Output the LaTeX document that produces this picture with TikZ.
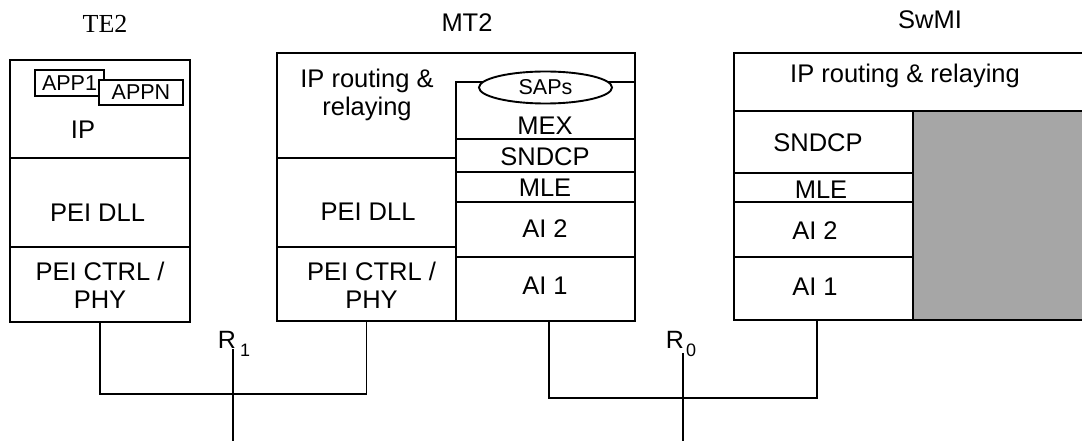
\documentclass[tikz,border=0pt]{standalone}
\usepackage{fontspec}
\setsansfont{Liberation Sans}
\newfontfamily\serifhead{Liberation Serif}
\usepackage{xcolor}
\usepackage{tikz}
\usetikzlibrary{shapes.geometric}
\definecolor{shade}{RGB}{166,166,166}
\newcommand{\bigtxt}{\sffamily\fontsize{25.5}{28}\selectfont}
\newcommand{\smalltxt}{\sffamily\fontsize{21.5}{24}\selectfont}
\newcommand{\subtxt}{\sffamily\fontsize{18}{20}\selectfont}

\begin{document}
\begin{tikzpicture}[
      x=1pt, y=-1pt, line width=1.9pt,
      layer/.style={draw, inner sep=0pt, fill=white},
      txt/.style={font=\bigtxt, inner sep=0pt, align=center},
      app/.style={draw, fill=white, inner sep=0pt, font=\smalltxt},
      wire/.style={draw, line width=1.9pt},
      rlbl/.style={font=\sffamily\fontsize{25}{28}\selectfont, inner sep=0pt, anchor=base west}
    ]
    \useasboundingbox (0,0) rectangle (1082,441);
    % outer frames
    \node[layer, minimum width=358, minimum height=268] (mt2) at (456,187) {};
    \node[layer, minimum width=356, minimum height=267] (swmi) at (912,186.5) {};
    % protocol layers
    \foreach \n/\x/\y/\w/\h in {
      te2ip/100/109/180/98, te2dll/100/202.5/180/89, te2ctrl/100/284.5/180/75,
      mtdll/366.5/202.5/179/89, mtctrl/366.5/284/179/74,
      mtmex/545.5/110.5/179/57, mtsndcp/545.5/155.5/179/33, mtmle/545.5/187/179/30,
      mtai2/545.5/229.5/179/55, mtai1/545.5/289/179/64,
      swsndcp/823.5/142/179/62, swmle/823.5/187.5/179/29,
      swai2/823.5/229.5/179/55, swai1/823.5/288.5/179/63} {
      \node[layer, minimum width=\w, minimum height=\h] (\n) at (\x,\y) {};
    }
    \node[layer, fill=shade, minimum width=177, minimum height=209] (swgrey) at (1001.5,215.5) {};
    \node[app, minimum width=69, minimum height=26] (app1) at (69.5,83) {APP1};
    \node[app, minimum width=84, minimum height=25] (appn) at (141,92.5) {APPN};
    \node[draw, ellipse, fill=white, inner sep=0pt, minimum width=133, minimum height=32,
      font=\smalltxt] (saps) at (545.5,87.5) {SAPs};
    % layer names
    \foreach \n/\x/\y/\t in {
      lip/83/130/IP, ldll/97.5/212.5/PEI DLL, lctrl/100/285/{PEI CTRL /\\PHY},
      lmtip/367/95/{IP routing \&\\relaying}, lmtdll/368/212/PEI DLL, lmtctrl/371.5/285/{PEI CTRL /\\PHY},
      lmex/545/126/MEX, lmtsn/545/156.5/SNDCP, lmtmle/545/188/MLE, lmtai2/545/229/AI 2, lmtai1/545/286/AI 1,
      lswip/905/76/{IP routing \& relaying}, lswsn/818/142.5/SNDCP, lswmle/821/190/MLE,
      lswai2/815/231/AI 2, lswai1/815/287/AI 1,
      hmt/467/22.5/MT2, hsw/930/20/SwMI} {
      \node[txt] (\n) at (\x,\y) {\t};
    }
    \node[inner sep=0pt, font=\serifhead\fontsize{26}{28}\selectfont] (hte) at (105,24) {TE2};
    % reference points
    \node[rlbl] (r1) at (217,348) {R\hspace{4pt}\raisebox{-8pt}{\subtxt 1}};
    \node[rlbl] (r0) at (665,348) {R\hspace{2pt}\raisebox{-8pt}{\subtxt 0}};
    \coordinate (bus1) at (0,394);
    \coordinate (bus0) at (0,398);
    \coordinate (r1top) at (233,349);
    \coordinate (r1bot) at (233,441);
    \coordinate (r0top) at (683,353);
    \coordinate (r0bot) at (683,441);
    \draw[wire] (te2ctrl.south) -- (te2ctrl.south |- bus1) -- (mtctrl.south |- bus1) -- (mtctrl.south);
    \draw[wire] ([xshift=3.5pt]mtai1.south) -- ([xshift=3.5pt]mtai1.south |- bus0)
      -- ([xshift=-6.5pt]swai1.south |- bus0) -- ([xshift=-6.5pt]swai1.south);
    \draw[wire] (r1top) -- (r1bot);
    \draw[wire] (r0top) -- (r0bot);
  \end{tikzpicture}
\end{document}
